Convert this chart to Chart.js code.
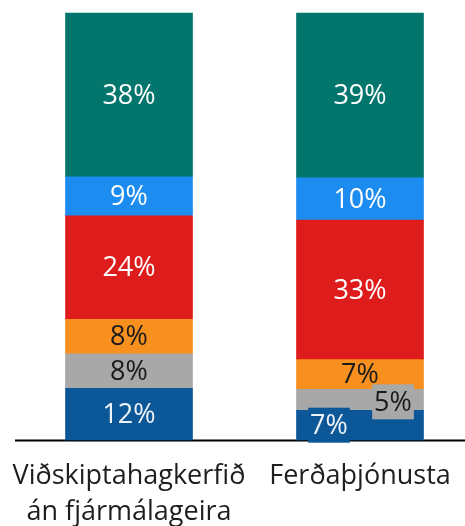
<!DOCTYPE html>
<html>
<head>
<meta charset="utf-8">
<script src="https://cdn.jsdelivr.net/npm/chart.js@4.4.1/dist/chart.umd.min.js"></script>
<style>
  html, body { margin: 0; padding: 0; background: #fff; }
  #wrap { width: 465px; height: 526px; }
</style>
</head>
<body>
<div id="wrap"><canvas id="myChart"></canvas></div>
<script>
// categories (x axis)
const categories = [['Viðskiptahagkerfið', 'án fjármálageira'], 'Ferðaþjónusta'];

// segment values in %, bottom to top
const darkBlueValues = [12, 7];
const grayValues = [8, 5];
const orangeValues = [8, 7];
const redValues = [24, 33];
const blueValues = [9, 10];
const tealValues = [38, 39];

const series = [
  { values: darkBlueValues, color: '#0b5797', text: '#eef3f8' },
  { values: grayValues, color: '#a8a8a8', text: '#1a1a1a' },
  { values: orangeValues, color: '#f7901f', text: '#1a1a1a' },
  { values: redValues, color: '#df1c1c', text: '#ffffff' },
  { values: blueValues, color: '#1c8cf0', text: '#ffffff' },
  { values: tealValues, color: '#02766c', text: '#ffffff' }
];

// each bar is a 100% bar, so normalise by the bar total
const totals = categories.map((c, j) => series.reduce((s, d) => s + d.values[j], 0));

// labels that sit off-centre with a box (dataset index -> category index -> [dx, dy])
const labelShift = {
  0: { 1: [-31, 0] },
  1: { 1: [33, 2] }
};

const axisLine = {
  id: 'axisLine',
  beforeDatasetsDraw(chart) {
    const ctx = chart.ctx;
    const y = chart.chartArea.bottom + 0.5;
    ctx.save();
    ctx.strokeStyle = '#000';
    ctx.lineWidth = 2;
    ctx.beginPath();
    ctx.moveTo(15, y);
    ctx.lineTo(chart.width, y);
    ctx.stroke();
    ctx.restore();
  }
};

const valueLabels = {
  id: 'valueLabels',
  afterDatasetsDraw(chart) {
    const ctx = chart.ctx;
    ctx.save();
    ctx.font = '27px "Open Sans"';
    ctx.textAlign = 'center';
    ctx.textBaseline = 'middle';
    series.forEach((s, i) => {
      const meta = chart.getDatasetMeta(i);
      meta.data.forEach((el, j) => {
        const txt = s.values[j] + '%';
        let x = el.x;
        let y = (el.y + el.base) / 2;
        const shift = labelShift[i] && labelShift[i][j];
        if (shift) {
          x += shift[0];
          y += shift[1];
          const w = ctx.measureText(txt).width + 4;
          ctx.fillStyle = s.color;
          ctx.fillRect(x - w / 2, y - 17.5, w, 35);
        }
        ctx.fillStyle = s.text;
        ctx.fillText(txt, x, y + 1);
      });
    });
    ctx.restore();
  }
};

new Chart(document.getElementById('myChart'), {
  type: 'bar',
  data: {
    labels: categories,
    datasets: series.map(s => ({
      data: s.values.map((v, j) => v / totals[j] * 100),
      backgroundColor: s.color,
      borderWidth: 0,
      barThickness: 127,
      clip: false
    }))
  },
  options: {
    responsive: true,
    maintainAspectRatio: false,
    animation: false,
    events: [],
    layout: {
      padding: { left: 129, right: 105, top: 13, bottom: 0 }
    },
    plugins: {
      legend: { display: false },
      tooltip: { enabled: false }
    },
    scales: {
      x: {
        stacked: true,
        offset: false,
        grid: { display: false, drawTicks: false },
        border: { display: false },
        afterFit(scale) {
          // labels may spill past the outer bars, keep the layout padding as set
          scale.paddingLeft = 0;
          scale.paddingRight = 0;
          scale.height = 86;
        },
        ticks: {
          padding: 18,
          maxRotation: 0,
          minRotation: 0,
          autoSkip: false,
          color: '#1e1e1e',
          font: { family: '"Open Sans"', size: 27, lineHeight: 1.33 }
        }
      },
      y: {
        display: false,
        stacked: true,
        min: 0,
        max: 100
      }
    }
  },
  plugins: [axisLine, valueLabels]
});
</script>
</body>
</html>
